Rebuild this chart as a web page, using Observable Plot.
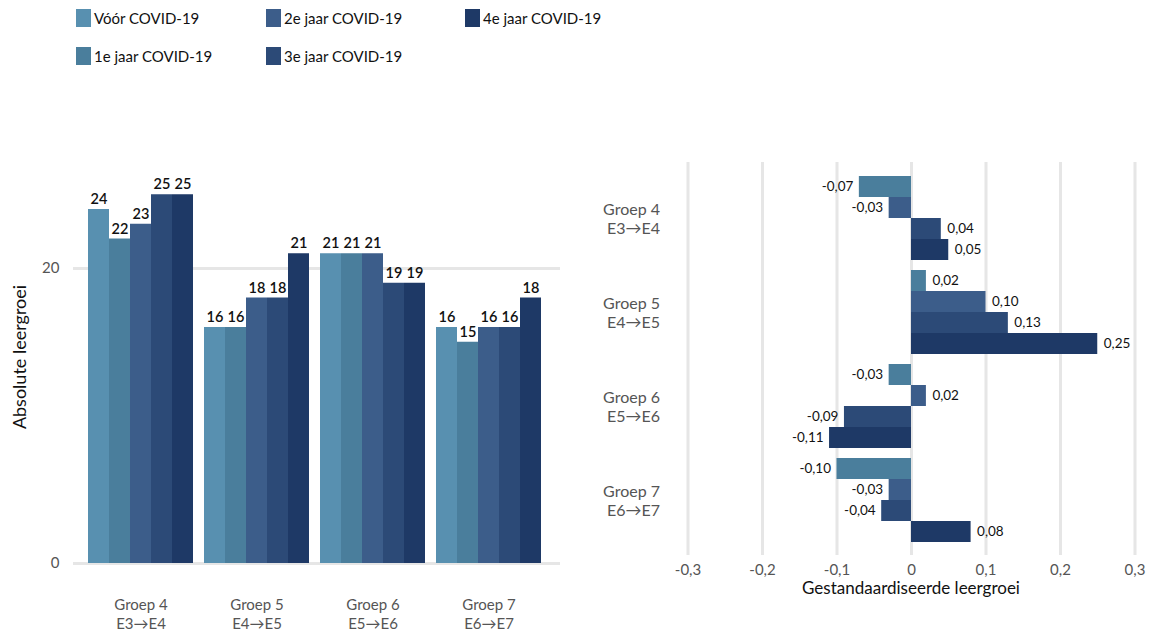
<!DOCTYPE html>
<html>
<head>
<meta charset="utf-8">
<script src="https://cdn.jsdelivr.net/npm/d3@7"></script>
<script src="https://cdn.jsdelivr.net/npm/@observablehq/plot@0.6"></script>
<style>
  html, body { margin: 0; padding: 0; background: #fff; }
  body { width: 1150px; height: 634px; position: relative; overflow: hidden; font-family: Lato, "Open Sans", sans-serif; }
  .abs { position: absolute; }
  .legend-item { position: absolute; display: flex; align-items: center; font-size: 15px; color: #111; white-space: nowrap; }
  .legend-item .sw { width: 15px; height: 18px; margin-right: 3px; }
  .title { position: absolute; color: #111; white-space: nowrap; }
</style>
</head>
<body>
<div id="legend"></div>
<div id="leftGrid" class="abs" style="left:0;top:150px"></div>
<div id="leftBars" class="abs" style="left:0;top:150px"></div>
<div id="rightGrid" class="abs" style="left:580px;top:150px"></div>
<div id="rightBars" class="abs" style="left:580px;top:150px"></div>
<div class="title" style="left:19px;top:357px;font-size:18px;transform:translate(-50%,-50%) rotate(-90deg);">Absolute leergroei</div>
<div class="title" style="left:911px;top:587px;font-size:17px;transform:translate(-50%,-50%);">Gestandaardiseerde leergroei</div>
<script>
// ---- data ----
const groups = ["Groep 4", "Groep 5", "Groep 6", "Groep 7"];
const groupSub = ["E3→E4", "E4→E5", "E5→E6", "E6→E7"];
const series = ["Vóór COVID-19", "1e jaar COVID-19", "2e jaar COVID-19", "3e jaar COVID-19", "4e jaar COVID-19"];
const colors = ["#5890b0", "#4a7e9c", "#3c5d8a", "#2c4a77", "#1e3966"];

// Absolute leergroei (left chart)
const absVoor = [24, 16, 21, 16];
const abs1e   = [22, 16, 21, 15];
const abs2e   = [23, 18, 21, 16];
const abs3e   = [25, 18, 19, 16];
const abs4e   = [25, 21, 19, 18];

// Gestandaardiseerde leergroei (right chart)
const std1e = [-0.07, 0.02, -0.03, -0.10];
const std2e = [-0.03, 0.10, 0.02, -0.03];
const std3e = [0.04, 0.13, -0.09, -0.04];
const std4e = [0.05, 0.25, -0.11, 0.08];

const yTicks = [0, 20];
const xTicks = [-0.3, -0.2, -0.1, 0, 0.1, 0.2, 0.3];
const xTickLabels = ["-0,3", "-0,2", "-0,1", "0", "0,1", "0,2", "0,3"];

// ---- build tables ----
const absSeries = [absVoor, abs1e, abs2e, abs3e, abs4e];
const leftData = [];
groups.forEach((g, gi) => absSeries.forEach((arr, si) => leftData.push({group: g, series: series[si], value: arr[gi]})));
const stdSeries = [std1e, std2e, std3e, std4e];
const rightSeries = series.slice(1);
const rightData = [];
groups.forEach((g, gi) => stdSeries.forEach((arr, si) => rightData.push({group: g, series: rightSeries[si], value: arr[gi]})));

const fmtComma = v => (v < 0 ? "-" : "") + Math.abs(v).toFixed(2).replace(".", ",");
const groupLabel = g => g + "\n" + groupSub[groups.indexOf(g)];
const color = {domain: series, range: colors};
const FONT = "Lato, 'Open Sans', sans-serif";

// ---- legend ----
const legendPos = [[76, 9], [76, 47], [266, 9], [266, 47], [465, 9]];
const legend = document.getElementById("legend");
series.forEach((s, i) => {
  const el = document.createElement("div");
  el.className = "legend-item";
  el.style.left = legendPos[i][0] + "px";
  el.style.top = legendPos[i][1] + "px";
  el.innerHTML = `<span class="sw" style="background:${colors[i]}"></span><span>${s}</span>`;
  legend.appendChild(el);
});

// ---- left chart ----
const L = {width: 570, height: 484, marginLeft: 73, marginRight: 10, marginTop: 29.5, marginBottom: 71};
document.getElementById("leftGrid").appendChild(Plot.plot({
  ...L,
  style: {background: "transparent", fontFamily: FONT},
  y: {domain: [0, 26]},
  marks: [
    Plot.ruleY(yTicks, {y: d => d, stroke: "#e6e6e6", strokeWidth: 3}),
    Plot.axisY({ticks: yTicks, tickSize: 0, tickPadding: 14, label: null, fontSize: 15, fill: "#555"})
  ]
}));
document.getElementById("leftBars").appendChild(Plot.plot({
  ...L,
  marginLeft: 69, marginRight: 10,
  style: {background: "transparent", fontFamily: FONT},
  fx: {domain: groups, paddingInner: 0.095, paddingOuter: 0.147},
  x: {domain: series, padding: 0, axis: null},
  y: {domain: [0, 26], axis: null},
  color,
  marks: [
    Plot.barY(leftData, {fx: "group", x: "series", y: "value", fill: "series"}),
    Plot.text(leftData, {fx: "group", x: "series", y: "value", text: d => String(d.value), dy: -10, fontSize: 14.5, fontWeight: 600, fill: "#111"}),
    Plot.axisFx({anchor: "bottom", tickSize: 0, tickPadding: 33, tickFormat: groupLabel, fontSize: 15, fill: "#555", lineHeight: 1.27, label: null})
  ]
}));

// ---- right chart ----
const R = {width: 570, height: 484, marginLeft: 107.5, marginRight: 15.5, marginTop: 12, marginBottom: 79};
document.getElementById("rightGrid").appendChild(Plot.plot({
  ...R,
  style: {background: "transparent", fontFamily: FONT},
  x: {domain: [-0.3, 0.3]},
  marks: [
    Plot.ruleX(xTicks, {x: d => d, stroke: "#e6e6e6", strokeWidth: 3}),
    Plot.axisX({ticks: xTicks, tickSize: 0, tickPadding: 9, label: null, fontSize: 15, fill: "#555",
      tickFormat: d => xTickLabels[xTicks.findIndex(t => Math.abs(t - d) < 1e-9)]})
  ]
}));
document.getElementById("rightBars").appendChild(Plot.plot({
  ...R,
  style: {background: "transparent", fontFamily: FONT},
  fy: {domain: groups, paddingInner: 0.0957, paddingOuter: 0.138},
  y: {domain: rightSeries, padding: 0, axis: null},
  x: {domain: [-0.3, 0.3], axis: null},
  color,
  marks: [
    Plot.barX(rightData, {fy: "group", y: "series", x: "value", fill: "series"}),
    Plot.text(rightData.filter(d => d.value >= 0), {fy: "group", y: "series", x: "value", text: d => fmtComma(d.value), textAnchor: "start", dx: 6, fontSize: 13.5, fill: "#111"}),
    Plot.text(rightData.filter(d => d.value < 0), {fy: "group", y: "series", x: "value", text: d => fmtComma(d.value), textAnchor: "end", dx: -6, fontSize: 13.5, fill: "#111"}),
    Plot.axisFy({anchor: "left", tickSize: 0, tickPadding: 28, tickFormat: groupLabel, fontSize: 16, fill: "#555", lineHeight: 1.2, label: null})
  ]
}));
</script>
</body>
</html>
